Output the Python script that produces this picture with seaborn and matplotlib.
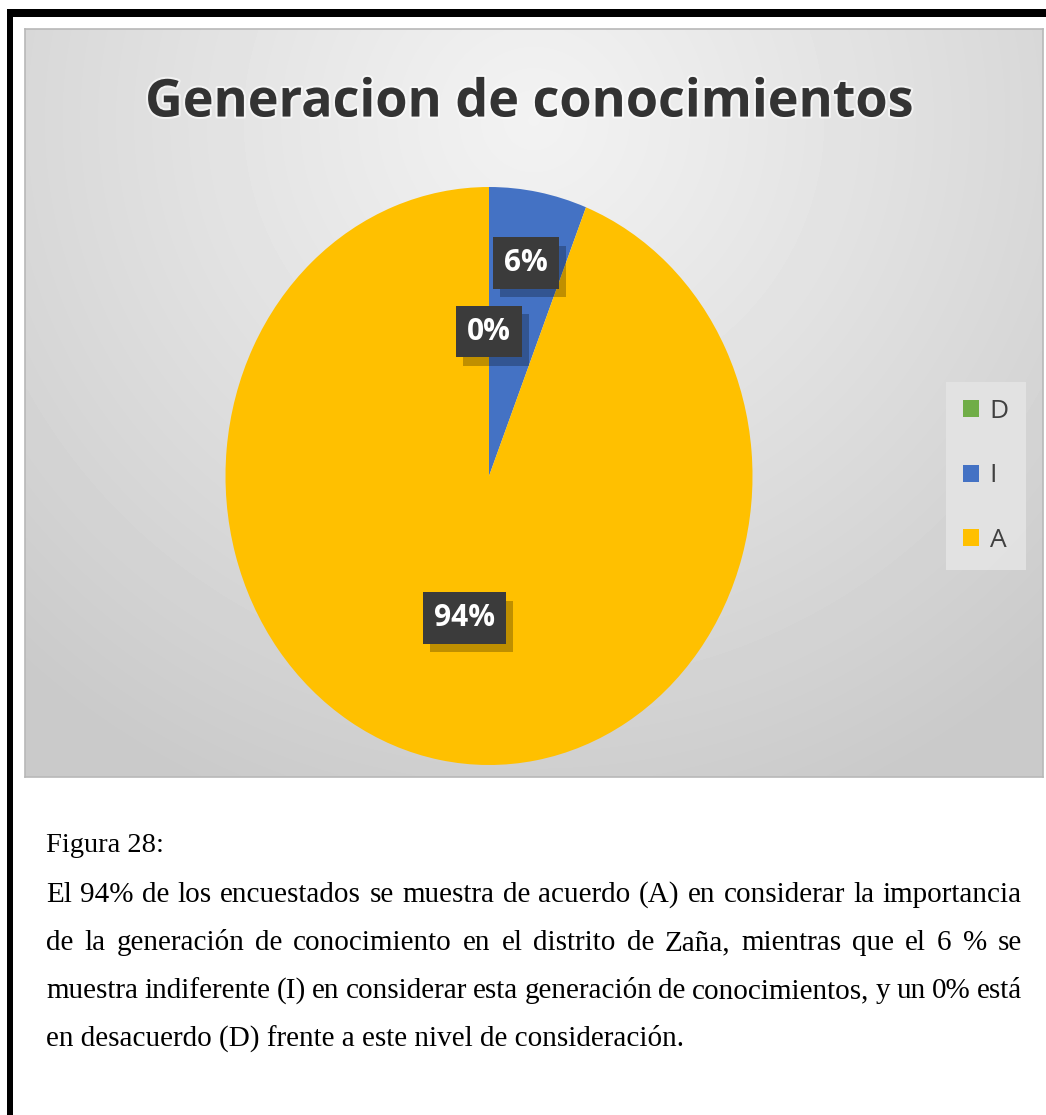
import numpy as np
import matplotlib
matplotlib.use("Agg")
import matplotlib.pyplot as plt
import seaborn as sns
from matplotlib.patches import Rectangle, Patch
import matplotlib.patheffects as pe

sns.set_theme(style="white")
plt.rcParams['font.family'] = ['Open Sans', 'DejaVu Sans']

# ---- data ----
categories = ["D", "I", "A"]
values = [0, 6, 94]
pct_labels = ["0%", "6%", "94%"]
colors = ["#70AD47", "#4472C4", "#FFC000"]
title = "Generacion de conocimientos"
caption_head = "Figura 28:"
caption_lines = [
    "El 94% de los encuestados se muestra de acuerdo (A) en considerar la importancia",
    "de la generación de conocimiento en el distrito de Zaña, mientras que el 6 % se",
    "muestra indiferente (I) en considerar esta generación de conocimientos, y un 0% está",
    "en desacuerdo (D) frente a este nivel de consideración.",
]

W, H = 1046, 1115
fig = plt.figure(figsize=(W / 100, H / 100), dpi=100)
fig.patch.set_facecolor("white")

def fx(px):
    return px / W

def fy(py):
    return 1 - py / H

# black frame lines (top and left)
fig.patches.append(Rectangle((fx(7), fy(17)), fx(1046 - 7), 8 / H, transform=fig.transFigure,
                             facecolor="black", edgecolor="none", zorder=0))
fig.patches.append(Rectangle((fx(7), 0), 6 / W, fy(9), transform=fig.transFigure,
                             facecolor="black", edgecolor="none", zorder=0))

# chart panel with gradient background
px0, px1, py0, py1 = 25, 1043, 29, 777
bg = fig.add_axes([fx(px0), fy(py1), fx(px1 - px0), (py1 - py0) / H])
ny, nx = 200, 260
yy, xx = np.mgrid[0:1:ny * 1j, 0:1:nx * 1j]
d = np.sqrt(((xx - 0.5) / 0.75) ** 2 + ((yy - 0.12) / 1.0) ** 2)
d = np.clip(d, 0, 1)
val = 0.95 - (0.95 - 0.79) * d ** 1.1
bg.imshow(val, cmap="gray", vmin=0, vmax=1, aspect="auto", extent=[0, 1, 1, 0],
          interpolation="bilinear")
bg.set_xlim(0, 1)
bg.set_ylim(1, 0)
bg.set_xticks([])
bg.set_yticks([])
for s in bg.spines.values():
    s.set_edgecolor("#b8b8b8")
    s.set_linewidth(1.2)

# title
fig.text(fx(530), fy(103), title, ha="center", va="center", fontsize=37.5,
         fontweight="bold", color="#333333", family=["Open Sans", "DejaVu Sans"],
         path_effects=[pe.withStroke(linewidth=3, foreground="white", alpha=0.6)])

# pie (elliptical as in the reference)
cx, cy, rx, ry = 489, 476, 263.5, 289
ax = fig.add_axes([fx(cx - rx), fy(cy + ry), 2 * rx / W, 2 * ry / H])
ax.set_facecolor("none")
wedges, _ = ax.pie(values, colors=colors, startangle=90, counterclock=False,
                   radius=1.0, wedgeprops=dict(linewidth=0, edgecolor="none"))
ax.set_xlim(-1, 1)
ax.set_ylim(-1, 1)
ax.set_aspect("auto")
ax.axis("off")

label_r = [0.5, 0.75, 0.5]
for w, lab, r in zip(wedges, pct_labels, label_r):
    ang = np.deg2rad((w.theta1 + w.theta2) / 2)
    x, y = r * np.cos(ang), r * np.sin(ang)
    t = ax.text(x, y, lab, ha="center", va="center", fontsize=21.5, fontweight="bold",
                color="white",
                bbox=dict(boxstyle="square,pad=0.36", facecolor="#3b3b3b", edgecolor="none"))
    t.get_bbox_patch().set_path_effects([
        pe.SimplePatchShadow(offset=(5, -6), shadow_rgbFace="black", alpha=0.25),
        pe.Normal()])

# legend
handles = [Patch(facecolor=c, edgecolor="none") for c in colors]
leg = fig.legend(handles, categories, loc="center", bbox_to_anchor=(fx(986), fy(476)),
                 frameon=True, fontsize=19, handlelength=0.6, handleheight=0.6,
                 handletextpad=0.4, labelspacing=1.5, borderpad=0.65,
                 labelcolor="#404040", fancybox=False)
leg.get_frame().set_facecolor("#e4e4e4")
leg.get_frame().set_edgecolor("none")
leg.get_frame().set_alpha(0.9)

# caption (Times-like, justified)
serif = ["Liberation Serif", "DejaVu Serif"]
fig.text(fx(46), fy(852), caption_head, ha="left", va="baseline", fontsize=20.5,
         family=serif, color="black")

fig.canvas.draw()
renderer = fig.canvas.get_renderer()
left, right = 46, 1022
baselines = [902, 950, 998, 1046]
fs = 21
for i, (line, base) in enumerate(zip(caption_lines, baselines)):
    words = line.split(" ")
    if i < len(caption_lines) - 1:
        texts = []
        widths = []
        for wd in words:
            t = fig.text(0, fy(base), wd, ha="left", va="baseline", fontsize=fs,
                         family=serif, color="black")
            bb = t.get_window_extent(renderer)
            texts.append(t)
            widths.append(bb.width)
        gap = (right - left - sum(widths)) / (len(words) - 1)
        xpos = left
        for t, wdt in zip(texts, widths):
            t.set_x(fx(xpos))
            xpos += wdt + gap
    else:
        fig.text(fx(left), fy(base), line, ha="left", va="baseline", fontsize=fs,
                 family=serif, color="black")

fig.savefig("out.png", dpi=100, facecolor="white")
